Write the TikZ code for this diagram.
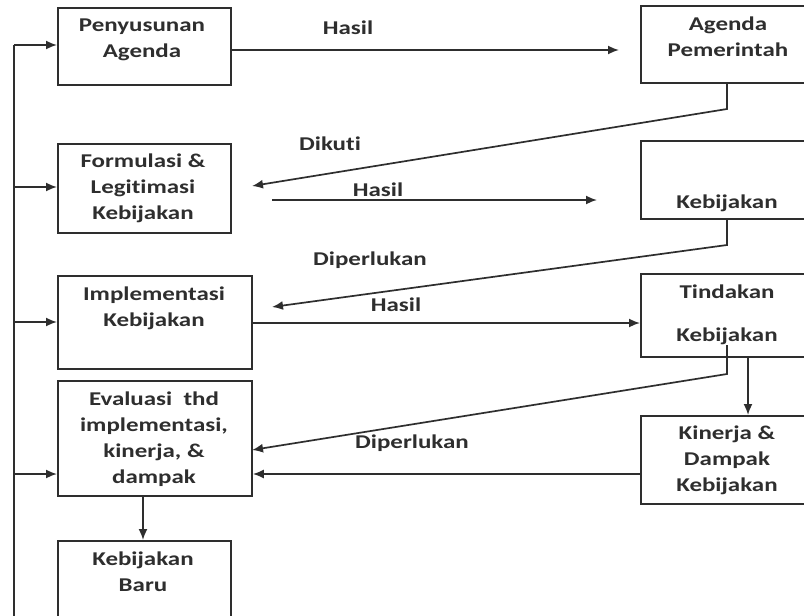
\documentclass[tikz,border=0pt]{standalone}
\usepackage{fontspec}
\newfontfamily\dfont{Carlito}[FakeStretch=1.28, Ligatures={NoCommon}]
\usetikzlibrary{arrows.meta}
\definecolor{ink}{HTML}{2E2E2E}
\tikzset{
  box/.style={draw=ink, line width=1.8pt, inner sep=0pt, anchor=north west},
  txt/.style={text=ink, align=center, inner sep=0pt, font=\dfont\bfseries\fontsize{19.5}{26}\selectfont},
  conn/.style={draw=ink, line width=1.7pt},
  arr/.style={conn, -{Latex[length=11pt,width=9pt]}},
}
\begin{document}
\begin{tikzpicture}[x=1pt,y=-1pt]
\useasboundingbox (0,0) rectangle (804,616);
\clip (0,0) rectangle (804,616);
% boxes
\node[box, minimum width=173pt, minimum height=77pt] (pa) at (57,7) {};
\node[box, minimum width=175pt, minimum height=77pt] (ap) at (640,5) {};
\node[box, minimum width=173pt, minimum height=89pt] (fl) at (57,143) {};
\node[box, minimum width=175pt, minimum height=78pt] (kb) at (640,140) {};
\node[box, minimum width=194pt, minimum height=93pt] (ik) at (57,275) {};
\node[box, minimum width=175pt, minimum height=83pt] (tk) at (640,273) {};
\node[box, minimum width=194pt, minimum height=115pt] (ev) at (57,380) {};
\node[box, minimum width=175pt, minimum height=88pt] (kd) at (640,415) {};
\node[box, minimum width=173pt, minimum height=90pt] (kbb) at (57,540) {};
% texts
\node[txt] (pat) at (142,40) {Penyusunan\\Agenda};
\node[txt] (apt) at (728,37) {Agenda\\Pemerintah};
\node[txt] (flt) at (143,188) {Formulasi \&\\Legitimasi\\Kebijakan};
\node[txt] (kbt) at (727,203) {Kebijakan};
\node[txt] (ikt) at (154,308) {Implementasi\\Kebijakan};
\node[txt] (tkt1) at (727,292) {Tindakan};
\node[txt] (tkt2) at (727,336) {Kebijakan};
\node[txt] (evt) at (154,439) {Evaluasi\ \ thd\\implementasi,\\kinerja, \&\\dampak};
\node[txt] (kdt) at (727,460) {Kinerja \&\\Dampak\\Kebijakan};
\node[txt] (kbbt) at (143,572) {Kebijakan\\Baru};
% labels
\node[txt] (l1) at (348,28) {Hasil};
\node[txt] (l2) at (330,144) {Dikuti};
\node[txt] (l3) at (378,190) {Hasil};
\node[txt] (l4) at (370,260) {Diperlukan};
\node[txt] (l5) at (396,305) {Hasil};
\node[txt] (l6) at (412,443) {Diperlukan};
% feedback line on the left
\coordinate (lb) at (14,618);
\coordinate (lt) at (14,45);
\coordinate (l2y) at (14,187);
\coordinate (l3y) at (14,322);
\coordinate (l4y) at (14,474);
\draw[conn] (lb) -- (lt);
\draw[arr] (lt) -- (lt -| pa.west);
\draw[arr] (l2y) -- (l2y -| fl.west);
\draw[arr] (l3y) -- (l3y -| ik.west);
\draw[arr] (l4y) -- (l4y -| ev.west);
% Hasil 1
\coordinate (h1s) at (230,50);
\coordinate (h1e) at (619,50);
\draw[arr] (h1s) -- (h1e);
% Dikuti
\coordinate (d1k) at (727,109);
\coordinate (d1e) at (252,186);
\draw[arr] (ap.south -| d1k) -- (d1k) -- (d1e);
% Hasil 2
\coordinate (h2s) at (272,200);
\coordinate (h2e) at (597,200);
\draw[arr] (h2s) -- (h2e);
% Diperlukan 1
\coordinate (p1k) at (727,245);
\coordinate (p1e) at (272,307);
\draw[arr] (kb.south -| p1k) -- (p1k) -- (p1e);
% Hasil 3
\coordinate (h3s) at (251,323);
\draw[arr] (h3s) -- (h3s -| tk.west);
% Tindakan -> Evaluasi
\coordinate (t1s) at (727,345);
\coordinate (t1k) at (727,374);
\coordinate (t1e) at (252,450);
\draw[arr] (t1s) -- (t1k) -- (t1e);
% Tindakan -> Kinerja
\coordinate (tkd) at (748,356);
\draw[arr] (tkd) -- (tkd |- kd.north);
% Kinerja -> Evaluasi
\coordinate (kde) at (640,474);
\draw[arr] (kde) -- (kde -| ev.east);
% Evaluasi -> Kebijakan Baru
\coordinate (evb) at (143,495);
\draw[arr] (evb) -- (evb |- kbb.north);
\end{tikzpicture}
\end{document}
